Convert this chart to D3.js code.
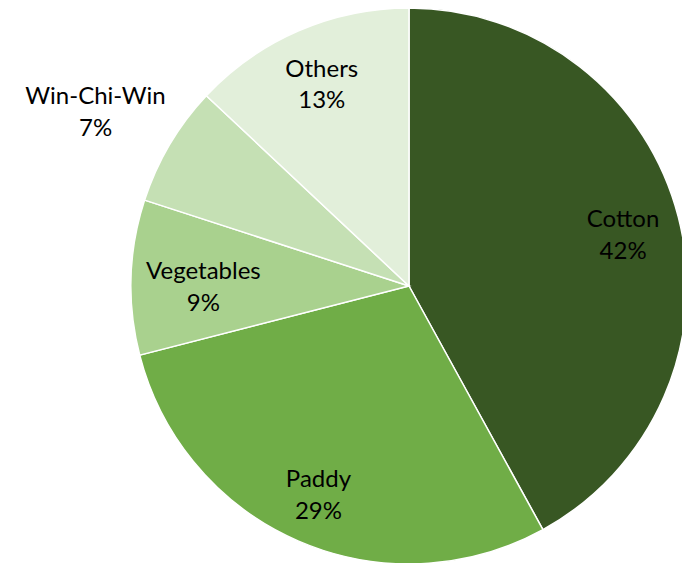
<!DOCTYPE html>
<html>
<head>
<meta charset="utf-8">
<script src="https://cdn.jsdelivr.net/npm/d3@7"></script>
<style>
  body { margin: 0; background: #fff; }
  svg { display: block; }
</style>
</head>
<body>
<svg id="chart" width="682" height="563"></svg>
<script>
// pie data, clockwise from 12 o'clock
var categories = ["Cotton", "Paddy", "Vegetables", "Win-Chi-Win", "Others"];
var shares = [42, 29, 9, 7, 13];
var colours = ["#385723", "#70ad47", "#a9d18e", "#c5e0b4", "#e2efda"];

var width = 682, height = 563;
var cx = 409, cy = 286, radius = 278;

var svg = d3.select("#chart");
var g = svg.append("g").attr("transform", "translate(" + cx + "," + cy + ")");

var data = categories.map(function (c, i) { return { name: c, value: shares[i], colour: colours[i] }; });

var pie = d3.pie().sort(null).value(function (d) { return d.value; });
var arc = d3.arc().innerRadius(0).outerRadius(radius);

var arcs = pie(data);

g.selectAll("path.slice")
  .data(arcs)
  .enter().append("path")
  .attr("class", "slice")
  .attr("d", arc)
  .attr("fill", function (d) { return d.data.colour; })
  .attr("stroke", "#fff")
  .attr("stroke-width", 1.5);

// label distance from centre, as fraction of radius (Win-Chi-Win sits outside)
var labelRadius = [0.795, 0.82, 0.74, 1.31, 0.79];
var labelNudge = [4, 0, 7, 11, 0]; // small vertical tweaks, px
var labelPos = function (d, i) {
  var a = (d.startAngle + d.endAngle) / 2;
  var r = radius * labelRadius[i];
  return [Math.sin(a) * r, -Math.cos(a) * r + labelNudge[i]];
};

var labels = g.selectAll("text.label")
  .data(arcs)
  .enter().append("text")
  .attr("class", "label")
  .attr("text-anchor", "middle")
  .attr("font-family", "Lato, 'Open Sans', sans-serif")
  .attr("font-size", 24)
  .attr("fill", "#000")
  .attr("transform", function (d, i) {
    var p = labelPos(d, i);
    return "translate(" + p[0] + "," + p[1] + ")";
  });

labels.append("tspan")
  .attr("x", 0)
  .attr("dy", "-0.33em")
  .text(function (d) { return d.data.name; });

labels.append("tspan")
  .attr("x", 0)
  .attr("dy", "1.33em")
  .text(function (d) { return d.data.value + "%"; });
</script>
</body>
</html>
